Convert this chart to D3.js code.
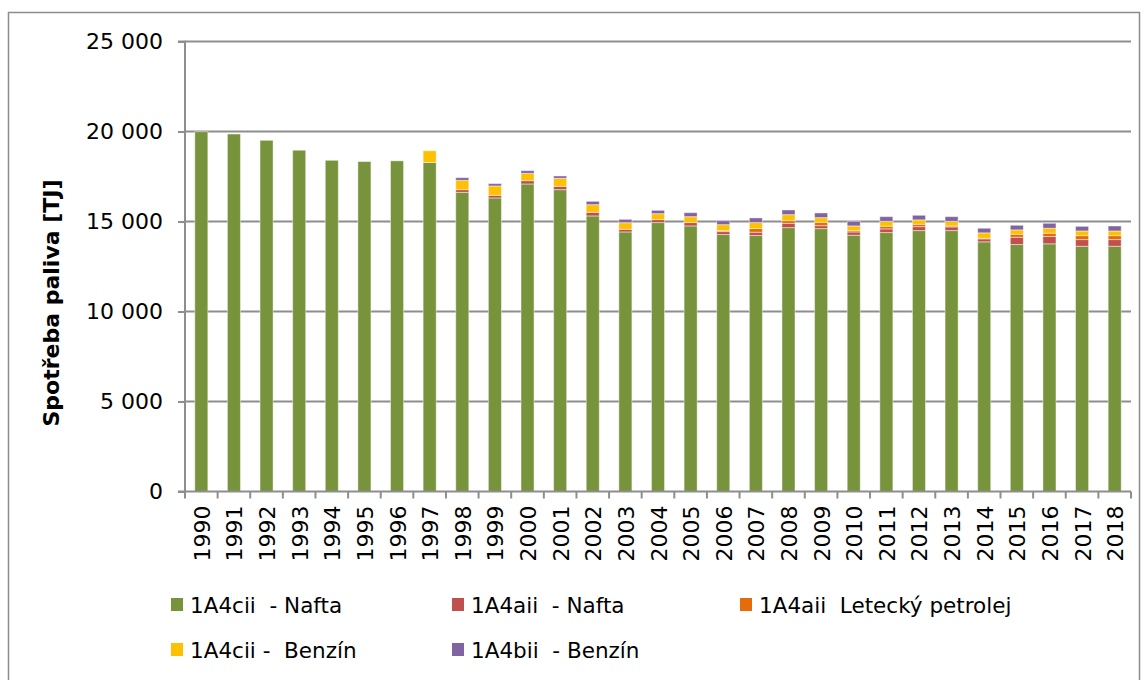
<!DOCTYPE html>
<html><head><meta charset="utf-8">
<script src="https://cdn.jsdelivr.net/npm/d3@7"></script>
<style>body{margin:0;background:#fff}svg{display:block}</style>
</head><body>
<svg id="c" width="1148" height="680"></svg>
<script>
const years = ["1990","1991","1992","1993","1994","1995","1996","1997","1998","1999","2000","2001","2002","2003","2004","2005","2006","2007","2008","2009","2010","2011","2012","2013","2014","2015","2016","2017","2018"];
const naftaCii = [19990,19860,19510,18960,18400,18330,18370,18280,16620,16310,17085,16770,15310,14420,14940,14755,14275,14220,14660,14605,14235,14385,14495,14495,13870,13720,13760,13625,13625];
const naftaAii = [0,0,0,0,0,0,0,0,150,145,185,185,200,145,165,185,165,185,240,165,185,205,220,205,165,405,405,370,370];
const letecky = [0,0,0,0,0,0,0,0,0,0,0,0,0,0,0,0,55,205,150,185,75,145,130,55,35,165,185,220,220];
const benzinCii = [0,0,0,0,0,0,0,650,515,520,405,445,425,370,330,330,330,330,330,260,260,275,245,255,300,245,275,260,260];
const benzinBii = [0,0,0,0,0,0,0,0,150,130,150,130,185,185,185,220,220,260,260,260,255,260,255,260,255,255,275,255,275];
const seriesNames = ["1A4cii  - Nafta","1A4aii  - Nafta","1A4aii  Letecký petrolej","1A4cii -  Benzín","1A4bii  - Benzín"];
const seriesColors = ["#77933C","#C0504D","#E46C0A","#FFC000","#8064A2"];
const yTicks = [0,5000,10000,15000,20000,25000];
const yTitle = "Spotřeba paliva [TJ]";

const svg = d3.select("#c");
const font = "'DejaVu Sans', sans-serif";
const L = 185, R = 1131, T = 41.5, B = 491.5;

svg.append("rect").attr("x",8.5).attr("y",12.5).attr("width",1131).attr("height",700)
  .attr("fill","none").attr("stroke","#8c8c8c").attr("stroke-width",1.5);

const x = d3.scaleBand().domain(years).range([L,R]).padding(0);
const y = d3.scaleLinear().domain([0,25000]).range([B,T]);

// gridlines
svg.append("g").selectAll("line").data(yTicks.filter(v=>v>0)).join("line")
  .attr("x1",L).attr("x2",R).attr("y1",d=>y(d)).attr("y2",d=>y(d))
  .attr("stroke","#8e8e8e").attr("stroke-width",2);

// y axis
const yAxis = d3.axisLeft(y).tickValues(yTicks).tickSize(7).tickPadding(15)
  .tickFormat(d=>d3.format(",")(d).replace(/,/g," "));
const gy = svg.append("g").attr("transform",`translate(${L},0)`).call(yAxis);
gy.select(".domain").attr("stroke","#8e8e8e").attr("stroke-width",2).attr("d",`M-7,${T}H0V${B}H-7`);
gy.selectAll(".tick line").attr("stroke","#8e8e8e").attr("stroke-width",2);
gy.selectAll("text").attr("font-family",font).attr("font-size",22).attr("fill","#000");

// stacked bars
const rows = years.map((yr,i)=>({year:yr,s0:naftaCii[i],s1:naftaAii[i],s2:letecky[i],s3:benzinCii[i],s4:benzinBii[i]}));
const stack = d3.stack().keys(["s0","s1","s2","s3","s4"])(rows);
const step = x.step(), bw = step*0.4;
svg.append("g").selectAll("g").data(stack).join("g")
  .attr("fill",(d,i)=>seriesColors[i])
  .selectAll("rect").data(d=>d).join("rect")
  .attr("x",d=>x(d.data.year)+(step-bw)/2)
  .attr("width",bw)
  .attr("y",d=>y(d[1]))
  .attr("height",d=>Math.max(0,y(d[0])-y(d[1])))
  .attr("stroke","rgba(255,255,255,0.45)").attr("stroke-width",1);

// x axis
const gx = svg.append("g");
gx.append("line").attr("x1",L).attr("x2",R).attr("y1",B).attr("y2",B).attr("stroke","#8e8e8e").attr("stroke-width",2);
gx.selectAll("line.t").data(years.map(d=>x(d)).concat([R])).join("line").attr("class","t")
  .attr("x1",d=>d).attr("x2",d=>d).attr("y1",B).attr("y2",B+7).attr("stroke","#8e8e8e").attr("stroke-width",2);
gx.selectAll("text").data(years).join("text")
  .attr("transform",d=>`translate(${x(d)+step/2+8.5},${B+14}) rotate(-90)`)
  .attr("text-anchor","end").attr("font-family",font).attr("font-size",22).attr("fill","#000")
  .text(d=>d);

// y title
svg.append("text").attr("transform",`translate(59,303) rotate(-90)`)
  .attr("text-anchor","middle").attr("font-family",font).attr("font-size",22).attr("font-weight","bold")
  .text(yTitle);

// legend
const legPos = [[171,605],[452,605],[740,605],[171,650],[452,650]];
const lg = svg.append("g").selectAll("g").data(seriesNames).join("g")
  .attr("transform",(d,i)=>`translate(${legPos[i][0]},${legPos[i][1]})`);
lg.append("rect").attr("x",0).attr("y",-7).attr("width",12).attr("height",13).attr("fill",(d,i)=>seriesColors[i]);
lg.append("text").attr("x",19).attr("y",8).attr("font-family",font).attr("font-size",21.5).attr("fill","#000")
  .attr("xml:space","preserve").style("white-space","pre").text(d=>d);
</script>
</body></html>
